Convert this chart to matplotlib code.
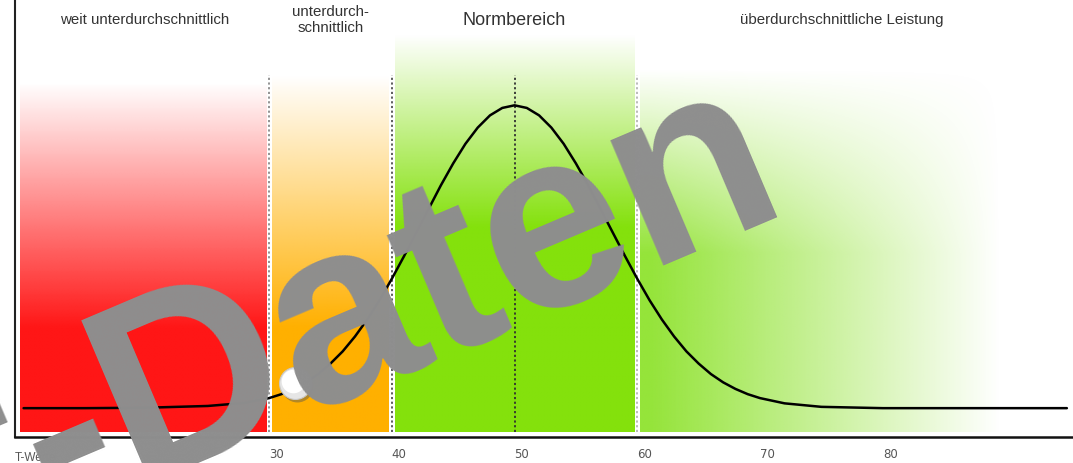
import numpy as np
import matplotlib.pyplot as plt
from matplotlib import transforms
from matplotlib.colors import to_rgb

# T-value scale, band limits and labels
band_edges = [9.7, 30, 40, 60, 95.3]
band_labels = ["weit unterdurchschnittlich", "unterdurch-\nschnittlich",
               "Normbereich", "überdurchschnittliche Leistung"]
tick_values = [30, 40, 50, 60, 70, 80]
guide_lines = [30, 40, 50, 60]

# distribution curve (height in % of plot height)
t_values = [10, 15, 20, 25, 28,
            30, 31, 32, 33, 34, 35, 36, 37, 38, 39, 40, 41, 42, 43, 44, 45,
            46, 47, 48, 49, 50, 51, 52, 53, 54, 55, 56, 57, 58, 59, 60, 61,
            62, 63, 64, 65, 66, 67, 68, 69, 70,
            72, 75, 80, 85, 90, 95]
freq = [6.6, 6.6, 6.7, 7.1, 7.8,
        8.9, 9.8, 11.0, 12.5, 14.4, 16.8, 19.6, 23.0, 26.9, 31.3, 36.2, 41.4,
        46.8, 52.2, 57.6, 62.6, 67.1, 70.8, 73.6, 75.3, 75.9, 75.3, 73.6, 70.8,
        67.1, 62.6, 57.6, 52.2, 46.8, 41.4, 36.2, 31.3, 26.9, 23.0, 19.6, 16.8,
        14.4, 12.5, 11.0, 9.8, 8.9,
        7.7, 6.9, 6.6, 6.6, 6.6, 6.6]

# the marked score
score_t = 32.1
score_freq = 12.4

fig = plt.figure(figsize=(10.73, 4.63), dpi=100)
ax = fig.add_axes([15 / 1073, 26 / 463, 1 - 15 / 1073, 1 - 26 / 463])
plt.rcParams['font.family'] = ['Liberation Sans', 'DejaVu Sans']


def gradient_band(x0, x1, y0, y1, color, alpha_fn):
    xs = np.linspace(x0, x1, 200)
    ys = np.linspace(y0, y1, 300)
    X, Y = np.meshgrid(xs, ys)
    img = np.zeros((len(ys), len(xs), 4))
    img[..., :3] = to_rgb(color)
    img[..., 3] = np.clip(alpha_fn(X, Y), 0, 1)
    ax.imshow(img, extent=[x0, x1, y0, y1], origin='lower', aspect='auto',
              interpolation='bilinear', zorder=1)


gap = 0.25
bottom = 1.1
# red: far below average
gradient_band(band_edges[0], band_edges[1] - gap, bottom, 81, '#ff1616',
              lambda X, Y: (81 - Y) / 56)
# orange: below average
gradient_band(band_edges[1] + gap, band_edges[2] - gap, bottom, 83, '#ffb000',
              lambda X, Y: (83 - Y) / 58)
# green: normal range
gradient_band(band_edges[2] + gap, band_edges[3] - gap, bottom, 92, '#84e10c',
              lambda X, Y: (92 - Y) / 44)
# light green fading to white: above average
gradient_band(band_edges[3] + gap, band_edges[4], bottom, 92, '#95e43a',
              lambda X, Y: np.clip((89.6 - X) / 28.5, 0, 1)
              * np.clip((84 - Y) / 42, 0, 1))

line_colors = ['#8a8a8a', '#505050', '#303030', '#b5b5b5']
for x, c in zip(guide_lines, line_colors):
    ax.plot([x, x], [bottom, 82.8], color=c, lw=1.3,
            linestyle=(0, (1.2, 1.4)), zorder=3)

ax.plot(t_values, freq, color='black', lw=1.8, zorder=4,
        solid_capstyle='round')

# score ball with a soft shadow
shadow = transforms.offset_copy(ax.transData, fig=fig, x=2, y=-3, units='dots')
ax.plot(score_t, score_freq, 'o', ms=23, color='#555555', alpha=0.45,
        mec='none', transform=shadow, zorder=5)
ax.plot(score_t, score_freq, 'o', ms=23, mfc='#e6e6e6', mec='#c8c8c8',
        mew=0.8, zorder=6)
hl = transforms.offset_copy(ax.transData, fig=fig, x=-2, y=2, units='dots')
ax.plot(score_t, score_freq, 'o', ms=17, mfc='white', mec='none',
        transform=hl, zorder=7)

# region headings
for i, label in enumerate(band_labels):
    xc = (band_edges[i] + band_edges[i + 1]) / 2
    if i == 3:
        xc -= 1.0
    big = label == "Normbereich"
    ax.text(xc, 95.4, label, ha='center', va='center',
            fontsize=13 if big else 10.8, color='#333333',
            linespacing=1.15)

ax.set_xlim(9.3, 95.5)
ax.set_ylim(0, 100)
ax.set_xticks(tick_values)
ax.set_xticklabels([str(v) for v in tick_values], ha='left')
ax.tick_params(axis='x', length=0, pad=8, labelsize=8.5, labelcolor='#555555')
ax.set_yticks([])
ax.text(0, -0.035, "T-Werte", transform=ax.transAxes, ha='left', va='top',
        fontsize=8.5, color='#555555')

for side in ['top', 'right']:
    ax.spines[side].set_visible(False)
ax.spines['left'].set_linewidth(1.5)
ax.spines['left'].set_color('#222222')
ax.spines['bottom'].set_linewidth(1.8)
ax.spines['bottom'].set_color('#111111')

# watermark
fig.text(0.738, 0.548, "Test-Daten", fontsize=185, fontweight='bold',
         color='#8e8e8e', rotation=23, rotation_mode='anchor',
         ha='right', va='baseline', zorder=10)

fig.savefig('out.png', dpi=100)
